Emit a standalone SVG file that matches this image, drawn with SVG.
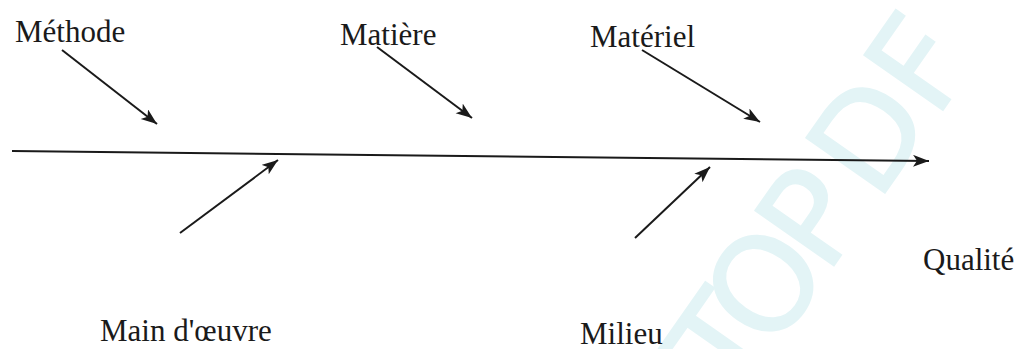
<svg xmlns="http://www.w3.org/2000/svg" width="1019" height="349" viewBox="0 0 1019 349">
  <defs>
    <style>
      .lbl { font-family: "Liberation Serif", "Times New Roman", serif; font-size: 31px; fill: #1a1a1a; }
      .edge { stroke: #1a1a1a; stroke-width: 2; fill: none; }
      .wm { font-family: "DejaVu Sans", "Liberation Sans", sans-serif; font-size: 132px; fill: #e3f4f6; stroke: #e3f4f6; stroke-width: 1.5; }
    </style>
    <marker id="ah" markerUnits="userSpaceOnUse" markerWidth="18" markerHeight="14" refX="16" refY="6" orient="auto">
      <path d="M0,0 L16,6 L0,12 L4,6 z" fill="#1a1a1a"/>
    </marker>
  </defs>
  <rect width="1019" height="349" fill="#ffffff"/>
  <g id="watermark">
    <text class="wm" transform="translate(943,110) rotate(-55)" x="-358 -297 -203 -114 -13" y="0">TOPDF</text>
  </g>
  <g id="connectors">
    <line class="edge" x1="12" y1="151" x2="929" y2="161" marker-end="url(#ah)"/>
    <line class="edge" x1="62" y1="50" x2="157" y2="124" marker-end="url(#ah)"/>
    <line class="edge" x1="377" y1="47" x2="472" y2="118" marker-end="url(#ah)"/>
    <line class="edge" x1="642" y1="50" x2="760" y2="122" marker-end="url(#ah)"/>
    <line class="edge" x1="180" y1="233" x2="278" y2="160" marker-end="url(#ah)"/>
    <line class="edge" x1="635" y1="238" x2="710" y2="167" marker-end="url(#ah)"/>
  </g>
  <g id="methode"><text class="lbl" x="15" y="42">Méthode</text></g>
  <g id="matiere"><text class="lbl" x="340" y="45">Matière</text></g>
  <g id="materiel"><text class="lbl" x="590" y="47">Matériel</text></g>
  <g id="qualite"><text class="lbl" x="923" y="270">Qualité</text></g>
  <g id="main-oeuvre"><text class="lbl" x="100" y="341">Main d'œuvre</text></g>
  <g id="milieu"><text class="lbl" x="580" y="344">Milieu</text></g>
</svg>
